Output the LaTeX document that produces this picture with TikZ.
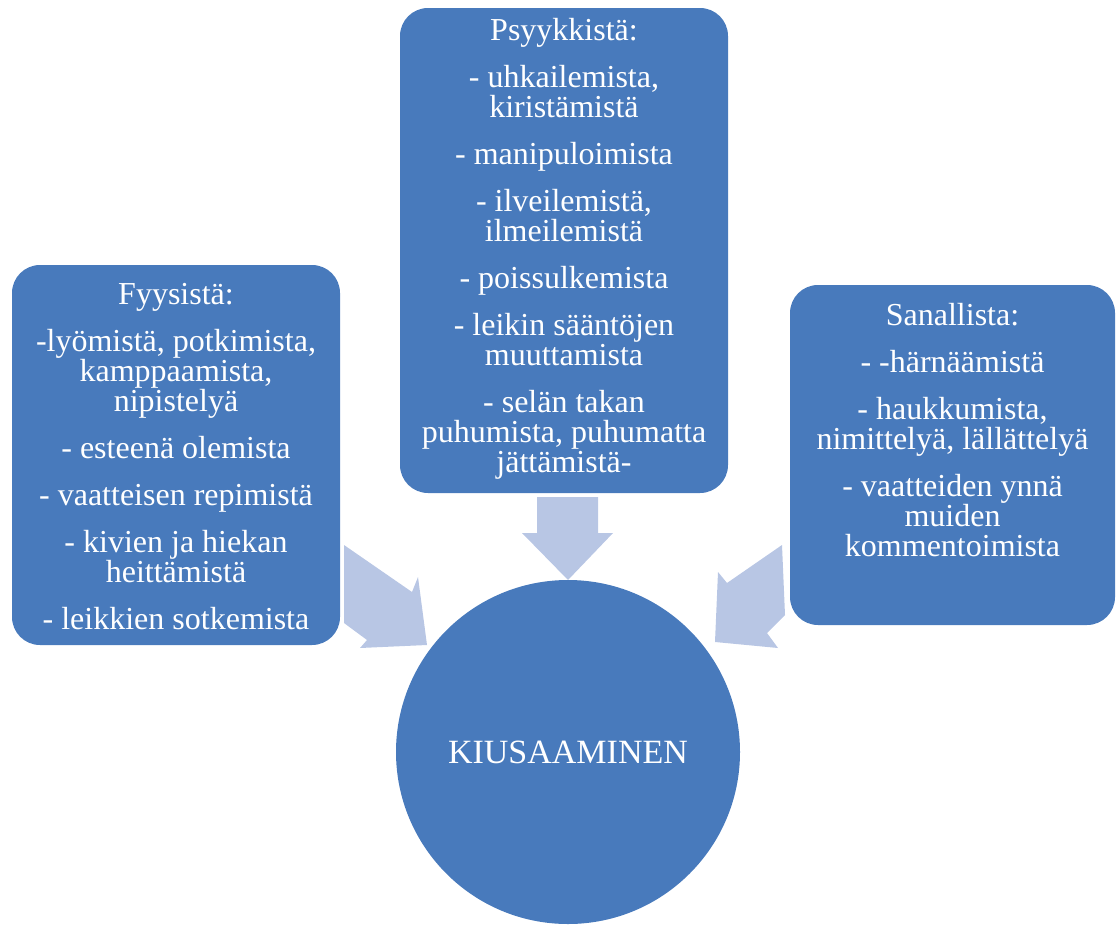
\documentclass[tikz,border=0pt]{standalone}
\usepackage{fontspec}
\setmainfont{Liberation Serif}
\usetikzlibrary{positioning,calc}
\definecolor{laatikko}{RGB}{72,122,188}
\definecolor{nuoli}{RGB}{184,198,228}
\tikzset{
  laatikko/.style={draw=none, fill=laatikko, rounded corners=14pt, inner sep=0pt},
  teksti/.style={text=white, align=center, inner sep=0pt, font=\fontsize{16}{15}\selectfont},
  nuoli/.style={fill=nuoli, draw=none}
}
\begin{document}
\begin{tikzpicture}[x=0.5pt,y=-0.5pt]
\useasboundingbox (0,0) rectangle (1118,926);

% laatikot
\node[laatikko, minimum width=164pt, minimum height=190pt] (fyysinen) at (176,455) {};
\node[laatikko, minimum width=164pt, minimum height=242.5pt] (psyykkinen) at (564,250.5) {};
\node[laatikko, minimum width=162.5pt, minimum height=170pt] (sanallinen) at (952.5,455) {};

\node[teksti, anchor=north] (fyysinenteksti) at ([yshift=-9pt]fyysinen.north)
  {Fyysistä:\\[8.5pt] -lyömistä, potkimista,\\ kamppaamista,\\ nipistelyä\\[8.5pt]
   - esteenä olemista\\[8.5pt] - vaatteisen repimistä\\[8.5pt]
   - kivien ja hiekan\\ heittämistä\\[8.5pt] - leikkien sotkemista};
\node[teksti, anchor=north] (psyykkinenteksti) at ([yshift=-5pt]psyykkinen.north)
  {Psyykkistä:\\[8.5pt] - uhkailemista,\\ kiristämistä\\[8.5pt] - manipuloimista\\[8.5pt]
   - ilveilemistä,\\ ilmeilemistä\\[8.5pt] - poissulkemista\\[8.5pt]
   - leikin sääntöjen\\ muuttamista\\[8.5pt]
   - selän takan\\ puhumista, puhumatta\\ jättämistä-};
\node[teksti, anchor=north] (sanallinenteksti) at ([yshift=-9pt]sanallinen.north)
  {Sanallista:\\[8.5pt] - -härnäämistä\\[8.5pt] - haukkumista,\\ nimittelyä, lällättelyä\\[8.5pt]
   - vaatteiden ynnä\\ muiden\\ kommentoimista};

% nuolet
\fill[nuoli] (537,497) -- (598,497) -- (598,533) -- (613,533) -- (568,580)
  -- (522,533) -- (537,533) -- cycle;
\fill[nuoli] (344,545) -- (412,592) -- (418,577) -- (427,645) -- (360,648)
  -- (367,640) -- (344,623) -- cycle;
\fill[nuoli] (782,545) -- (785,615) -- (767,633) -- (778,648) -- (715,642)
  -- (718,572) -- (727,583) -- cycle;

% keskus
\node[circle, fill=laatikko, minimum size=172pt, inner sep=0pt, text=white,
  font=\fontsize{17}{17}\selectfont] (kiusaaminen) at (568,752) {KIUSAAMINEN};
\end{tikzpicture}
\end{document}
